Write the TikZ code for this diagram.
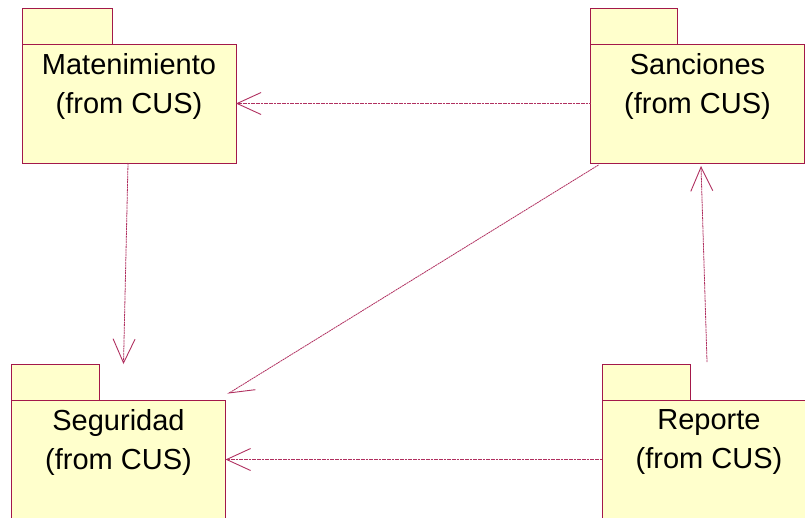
\documentclass[tikz,border=0pt]{standalone}
\usepackage{fontspec}
\setmainfont{Liberation Sans}
\usetikzlibrary{calc, positioning, arrows.meta}
\definecolor{color_fill}{HTML}{FFFFCC}
\definecolor{color_edge}{HTML}{A3184A}
\definecolor{color_line}{HTML}{B03060}
\tikzset{
  pkg_body/.style={draw=color_edge, fill=color_fill, line width=0.8pt, inner sep=0pt, outer sep=0pt, minimum width=214pt, minimum height=119pt},
  pkg_tab/.style={draw=color_edge, fill=color_fill, line width=0.8pt, inner sep=0pt, outer sep=0pt, minimum width=88pt, minimum height=36pt},
  pkg_label/.style={align=center, inner sep=0pt, font=\fontsize{29}{39}\selectfont, text=black},
  dep_arrow/.style={draw=color_line, line width=0.8pt, dash pattern=on 2pt off 0.6pt, -{Straight Barb[length=24pt, width=22pt, line width=0.9pt]}},
}

\begin{document}
\begin{tikzpicture}[x=1pt, y=-1pt]
    \useasboundingbox (0,0) rectangle (805,517);
    \clip (0,0) rectangle (805,517);

    % packages
    \node[pkg_body] (mat) at (129,103.5)   {};
    \node[pkg_body] (san) at (697.5,103.5) {};
    \node[pkg_body] (seg) at (118.5,459.5) {};
    \node[pkg_body] (rep) at (709,459.5)   {};
    \node[pkg_tab, anchor=south west, minimum width=90pt] (mat_tab) at (mat.north west) {};
    \node[pkg_tab, anchor=south west, minimum width=87pt] (san_tab) at (san.north west) {};
    \node[pkg_tab, anchor=south west] (seg_tab) at (seg.north west) {};
    \node[pkg_tab, anchor=south west] (rep_tab) at (rep.north west) {};

    \node[pkg_label] (mat_text) at ($(mat.north)+(0,42)$) {Matenimiento\\(from CUS)};
    \node[pkg_label] (san_text) at ($(san.north)+(0,42)$) {Sanciones\\(from CUS)};
    \node[pkg_label] (seg_text) at ($(seg.north)+(0,42)$) {Seguridad\\(from CUS)};
    \node[pkg_label] (rep_text) at ($(rep.north)+(0,42)$) {Reporte\\(from CUS)};

    % dependencies
    \draw[dep_arrow] (san.west) -- (mat.east);
    \draw[dep_arrow] (rep.west) -- (seg.east);
    \draw[dep_arrow] ($(mat.south)+(-1,0)$) -- ($(seg_tab.north east)+(24,0)$);
    \draw[dep_arrow] ($(rep_tab.north east)+(17,-2)$) -- ($(san.south)+(3.5,3)$);
    \draw[dep_arrow, -{Straight Barb[harpoon, length=24pt, width=22pt, line width=0.9pt]}] ($(san.south west)+(8,2)$) -- ($(seg.north east)+(2,-6)$);
\end{tikzpicture}
\end{document}
